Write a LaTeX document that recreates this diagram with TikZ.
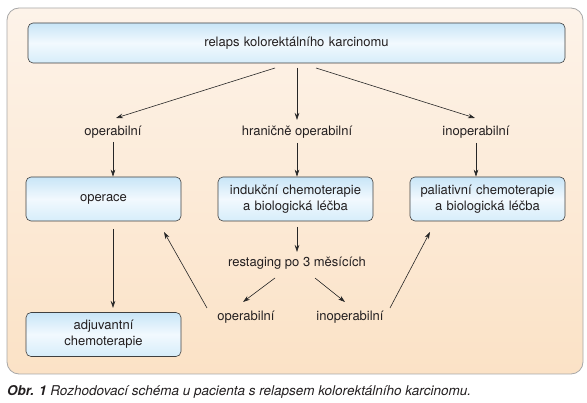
\documentclass[tikz,border=0pt]{standalone}
\usepackage{fontspec}
\setmainfont{TeX Gyre Heros}
\usetikzlibrary{arrows.meta}
\definecolor{panelTop}{HTML}{FDF3E9}
\definecolor{panelBot}{HTML}{FBE2C6}
\definecolor{boxTop}{HTML}{C8E5F7}
\definecolor{boxMid}{HTML}{F2F9FE}
\definecolor{boxBot}{HTML}{D6EDFA}
\definecolor{panelLine}{HTML}{A8A8A8}
\definecolor{txt}{HTML}{231F20}
\tikzset{
  box/.style={draw=black!75, line width=0.6pt, rounded corners=5pt,
    top color=boxTop, bottom color=boxBot, middle color=boxMid,
    minimum height=44pt, text width=155pt, align=center, font=\fontsize{13}{16}\selectfont, text=txt, inner sep=0pt},
  lbl/.style={font=\fontsize{13}{16}\selectfont, text=txt, inner sep=1pt},
  arr/.style={-{Stealth[length=7pt,width=4.5pt]}, line width=0.6pt, draw=black!85}
}
\begin{document}
\begin{tikzpicture}[x=1pt,y=-1pt]
\useasboundingbox (0,0) rectangle (587,403);
\fill[white] (0,0) rectangle (587,403);
\shade[top color=panelTop, bottom color=panelBot, draw=panelLine, line width=0.8pt, rounded corners=12pt] (7,8) rectangle (583,374);
\node[box, text width=537pt, minimum height=40pt] (top) at (296.5,43) {relaps kolorektálního karcinomu};
\node[lbl] (op) at (113,132) {operabilní};
\node[lbl] (hr) at (297,132) {hraničně operabilní};
\node[lbl] (in) at (476,132) {inoperabilní};
\node[box] (oper) at (103.5,199) {operace};
\node[box] (ind) at (295.5,199) {indukční chemoterapie\\a biologická léčba};
\node[box] (pal) at (487.5,199) {paliativní chemoterapie\\a biologická léčba};
\node[box] (adj) at (103.5,334.5) {adjuvantní\\chemoterapie};
\node[lbl] (res) at (297,263) {restaging po 3 měsících};
\node[lbl] (op2) at (246,317) {operabilní};
\node[lbl] (in2) at (350,317) {inoperabilní};
\coordinate (t1) at (275,68);
\coordinate (t2) at (297,68);
\coordinate (t3) at (316,68);
\draw[arr] (t1) -- (116,118);
\draw[arr] (t2) -- (297,120);
\draw[arr] (t3) -- (475,118);
\draw[arr] (113,142) -- (oper.north -| op);
\draw[arr] (297,143) -- (ind.north -| hr);
\draw[arr] (476,143) -- (pal.north -| in);
\draw[arr] (113,229) -- (113,308);
\draw[arr] (297,227) -- (297,252);
\draw[arr] (275,278) -- (243,302);
\draw[arr] (315,278) -- (345,302);
\draw[arr] (207,308) -- (164,232);
\draw[arr] (390,308) -- (430,232);
\node[anchor=west, inner sep=0pt, font=\fontsize{13.5}{15}\selectfont\itshape, text=txt] (cap) at (7,392) {\textbf{Obr. 1} Rozhodovací schéma u pacienta s relapsem kolorektálního karcinomu.};
\end{tikzpicture}
\end{document}
